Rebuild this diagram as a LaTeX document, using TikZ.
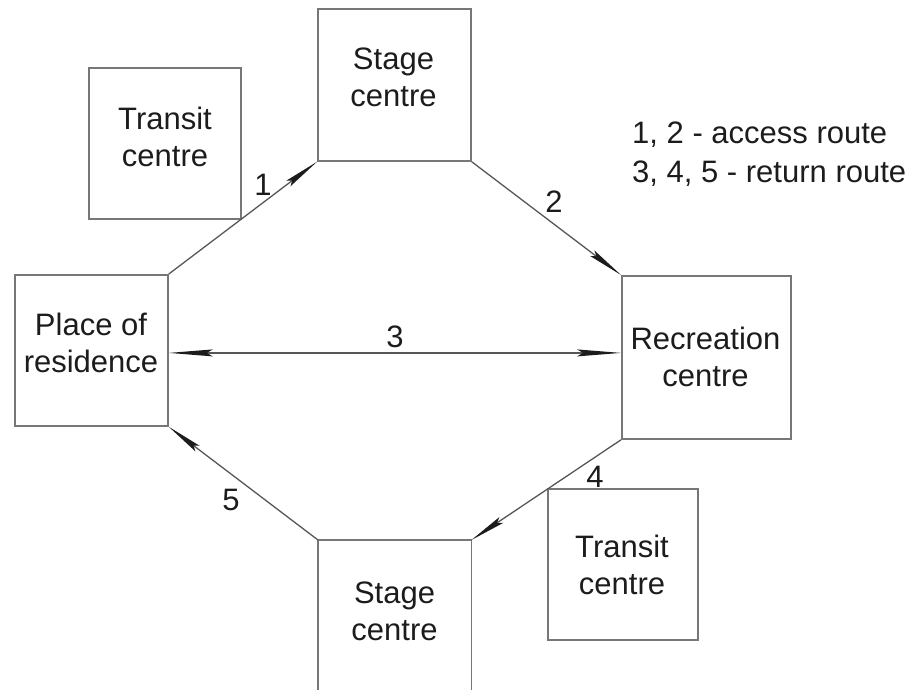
\documentclass[tikz,border=0pt]{standalone}
\usepackage{fontspec}
\setmainfont{Liberation Sans}
\usetikzlibrary{arrows.meta}
\definecolor{boxgray}{HTML}{777777}
\definecolor{linegray}{HTML}{575757}
\definecolor{inkdark}{HTML}{1C1C1C}
\begin{document}
\begin{tikzpicture}[x=1pt,y=-1pt,
  boxframe/.style={draw=boxgray,line width=1.8pt,inner sep=0pt,anchor=north west},
  openframe/.style={inner sep=0pt,anchor=north west},
  boxtext/.style={align=center,text=inkdark,inner sep=0pt,font=\fontsize{31}{37}\selectfont},
  numtext/.style={text=inkdark,inner sep=0pt,anchor=base,font=\fontsize{31}{37}\selectfont},
  legendtext/.style={text=inkdark,inner sep=0pt,anchor=base west,font=\fontsize{31}{37}\selectfont},
  route/.style={draw=linegray,line width=1.3pt},
  tip/.style={-{Stealth[length=36pt,width=7pt,inset=5pt,line width=0pt,color=inkdark]}},
  twotips/.style={{Stealth[length=44pt,width=7pt,inset=6pt,line width=0pt,color=inkdark]}-{Stealth[length=44pt,width=7pt,inset=6pt,line width=0pt,color=inkdark]}}
]
\useasboundingbox (0,0) rectangle (920,689);

% frames
\node[boxframe,minimum width=153pt,minimum height=151pt] (place) at (14,274) {};
\node[boxframe,minimum width=153pt,minimum height=152pt] (stageN) at (317,8) {};
\node[boxframe,minimum width=152pt,minimum height=151pt] (transitN) at (88,67) {};
\node[boxframe,minimum width=169pt,minimum height=163pt] (rec) at (621,275) {};
\node[boxframe,minimum width=150pt,minimum height=151pt] (transitS) at (547,488) {};
\node[openframe,minimum width=153pt,minimum height=160pt] (stageS) at (318,540) {};
\draw[draw=boxgray,line width=1.8pt] (stageS.south west) -- (stageS.north west)
  -- (stageS.north east) -- (stageS.south east);

% box texts
\node[boxtext] (placeT) at (91,343) {Place of\\residence};
\node[boxtext] (stageNT) at (393.5,77) {Stage\\centre};
\node[boxtext] (transitNT) at (165,137) {Transit\\centre};
\node[boxtext] (recT) at (705.5,357) {Recreation\\centre};
\node[boxtext] (transitST) at (622,565) {Transit\\centre};
\node[boxtext] (stageST) at (394.5,611) {Stage\\centre};

% routes
\draw[route,tip] (place.north east) -- (stageN.south west);
\draw[route,tip] (stageN.south east) -- (rec.north west);
\draw[route,twotips] ([yshift=-2.5pt]place.east) -- ([yshift=-2.5pt]place.east -| rec.west);
\draw[route,tip] (rec.south west) -- (stageS.north east);
\draw[route,tip] (stageS.north west) -- (place.south east);

% route numbers
\node[numtext] (n1) at (263,195) {1};
\node[numtext] (n2) at (554,212) {2};
\node[numtext] (n3) at (395,347) {3};
\node[numtext] (n4) at (595,487) {4};
\node[numtext] (n5) at (231,510) {5};

% legend
\node[legendtext] (leg1) at (632,143) {1, 2 - access route};
\node[legendtext] (leg2) at (632,182) {3, 4, 5 - return route};
\end{tikzpicture}
\end{document}
